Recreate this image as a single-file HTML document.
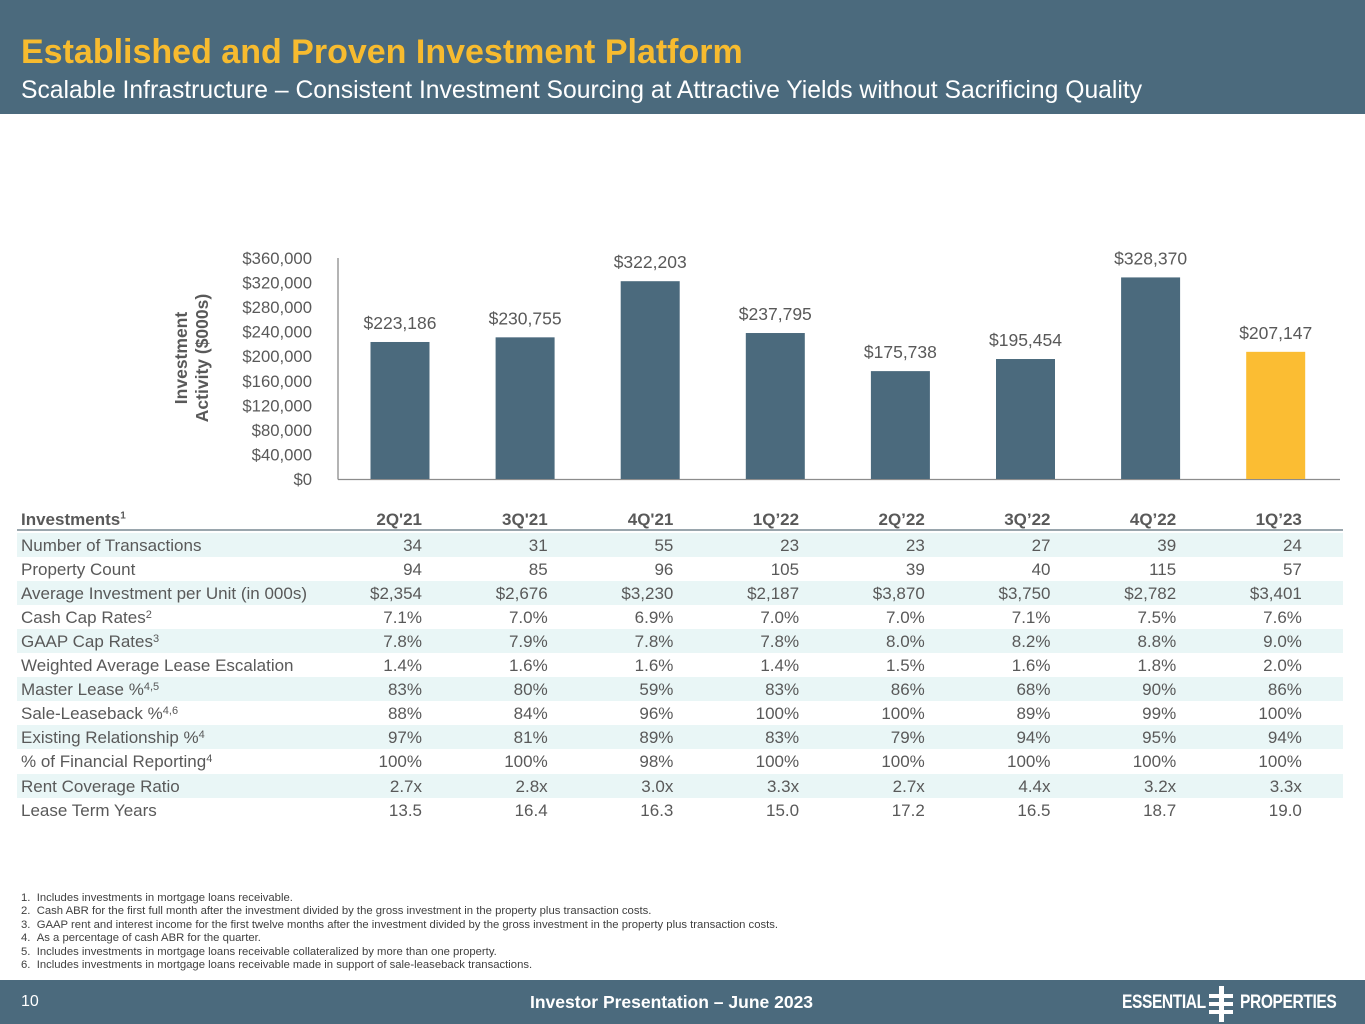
<!DOCTYPE html>
<html><head><meta charset="utf-8"><style>
body{margin:0;width:1365px;height:1024px;position:relative;background:#fff;font-family:"Liberation Sans",Arial,sans-serif;overflow:hidden}
.hdr{position:absolute;left:0;top:0;width:1365px;height:114px;background:#4b6a7d}
.t1{position:absolute;left:21px;top:33px;font-size:34px;font-weight:bold;color:#f7bb2f}
.t2{position:absolute;left:21px;top:77px;font-size:24.7px;color:#fff}
.ftr{position:absolute;left:0;top:980px;width:1365px;height:44px;background:#4b6a7d;color:#fff}
.row{position:absolute;left:17px;width:1326px;height:24px;font-size:17px;color:#595959}
.row.sh{background:#e9f6f6}
.row span{position:absolute;top:3px}
.row .lbl{left:4px}
.row .v{width:100px;text-align:right}
.hrow{font-weight:bold;border-bottom:2px solid #9aa6ad;height:22px}
.notes{position:absolute;left:21px;top:892px;font-size:11.3px;color:#404040;line-height:13.4px}
</style></head><body>
<div class="hdr"></div>
<div class="t1">Established and Proven Investment Platform</div>
<div class="t2">Scalable Infrastructure – Consistent Investment Sourcing at Attractive Yields without Sacrificing Quality</div>
<svg id="chart" width="1365" height="500" style="position:absolute;left:0;top:0"></svg>
<div id="tbl"></div>
<div class="notes">1.&nbsp;&nbsp;Includes investments in mortgage loans receivable.<br>2.&nbsp;&nbsp;Cash ABR for the first full month after the investment divided by the gross investment in the property plus transaction costs.<br>3.&nbsp;&nbsp;GAAP rent and interest income for the first twelve months after the investment divided by the gross investment in the property plus transaction costs.<br>4.&nbsp;&nbsp;As a percentage of cash ABR for the quarter.<br>5.&nbsp;&nbsp;Includes investments in mortgage loans receivable collateralized by more than one property.<br>6.&nbsp;&nbsp;Includes investments in mortgage loans receivable made in support of sale-leaseback transactions.</div>
<div class="ftr">
<span style="position:absolute;left:21px;top:13px;font-size:16px">10</span>
<span style="position:absolute;left:530px;top:12px;font-size:17.5px;font-weight:bold">Investor Presentation – June 2023</span>
<span style="position:absolute;left:1122px;top:12px;font-size:19px;font-weight:bold;letter-spacing:-0.5px;transform:scaleX(0.82);transform-origin:left">ESSENTIAL</span>
<svg style="position:absolute;left:1207px;top:6px" width="28" height="36"><rect x="12" y="0" width="5" height="36" fill="#fff"/><rect x="2" y="8" width="24" height="4" fill="#fff"/><rect x="2" y="16" width="24" height="4" fill="#fff"/><rect x="2" y="24" width="24" height="4" fill="#fff"/></svg>
<span style="position:absolute;left:1240px;top:12px;font-size:19px;font-weight:bold;letter-spacing:-0.5px;transform:scaleX(0.82);transform-origin:left">PROPERTIES</span>
</div>
<script>
const categories=["2Q'21","3Q'21","4Q'21","1Q’22","2Q’22","3Q’22","4Q’22","1Q’23"];
const values=[223186,230755,322203,237795,175738,195454,328370,207147];
const ticks=[0,40000,80000,120000,160000,200000,240000,280000,320000,360000];
const NS="http://www.w3.org/2000/svg";
const svg=document.getElementById('chart');
const y0=479,yTop=258,maxV=360000;
const y=v=>y0-(v/maxV)*(y0-yTop);
const x=i=>400+i*125.1;
function mk(t,a){const e=document.createElementNS(NS,t);for(const k in a)e.setAttribute(k,a[k]);svg.appendChild(e);return e;}
const fmt=v=>'$'+v.toLocaleString('en-US');
ticks.forEach(t=>{const e=mk('text',{x:312,y:y(t)+6,'text-anchor':'end','font-size':16.7,fill:'#595959'});e.textContent=fmt(t);

});
const ax=mk('line',{x1:338,y1:258,x2:338,y2:479.5,stroke:'#8c8c8c','stroke-width':1.3});


const bl=mk('line',{x1:338,y1:479.5,x2:1340,y2:479.5,stroke:'#8c8c8c','stroke-width':1.3});


values.forEach((v,i)=>{const r=mk('rect',{x:x(i)-29.5,y:y(v),width:59,height:y0-y(v),fill:i==7?'#fbbd33':'#4b6a7d'});


const t=mk('text',{x:x(i),y:y(v)-13,'text-anchor':'middle','font-size':17.5,fill:'#595959'});t.textContent=fmt(v);

});
const yt=mk('text',{transform:'translate(191,358) rotate(-90)','text-anchor':'middle','font-size':17.5,'font-weight':'bold',fill:'#595959'});


yt.innerHTML='<tspan x="0" dy="-4">Investment</tspan><tspan x="0" dy="21">Activity ($000s)</tspan>';

const rows=[
["Number of Transactions",["34","31","55","23","23","27","39","24"]],
["Property Count",["94","85","96","105","39","40","115","57"]],
["Average Investment per Unit (in 000s)",["$2,354","$2,676","$3,230","$2,187","$3,870","$3,750","$2,782","$3,401"]],
["Cash Cap Rates<sup>2</sup>",["7.1%","7.0%","6.9%","7.0%","7.0%","7.1%","7.5%","7.6%"]],
["GAAP Cap Rates<sup>3</sup>",["7.8%","7.9%","7.8%","7.8%","8.0%","8.2%","8.8%","9.0%"]],
["Weighted Average Lease Escalation",["1.4%","1.6%","1.6%","1.4%","1.5%","1.6%","1.8%","2.0%"]],
["Master Lease %<sup>4,5</sup>",["83%","80%","59%","83%","86%","68%","90%","86%"]],
["Sale-Leaseback %<sup>4,6</sup>",["88%","84%","96%","100%","100%","89%","99%","100%"]],
["Existing Relationship %<sup>4</sup>",["97%","81%","89%","83%","79%","94%","95%","94%"]],
["% of Financial Reporting<sup>4</sup>",["100%","100%","98%","100%","100%","100%","100%","100%"]],
["Rent Coverage Ratio",["2.7x","2.8x","3.0x","3.3x","2.7x","4.4x","3.2x","3.3x"]],
["Lease Term Years",["13.5","16.4","16.3","15.0","17.2","16.5","18.7","19.0"]]];
const tbl=document.getElementById('tbl');
const colR=i=>422+i*125.7-17;
function addRow(top,lbl,vals,cls,name){const d=document.createElement('div');d.className='row '+cls;d.style.top=top+'px';


let h='<span class="lbl">'+lbl+'</span>';vals.forEach((v,i)=>{h+='<span class="v" style="left:'+(colR(i)-100)+'px">'+v+'</span>';});d.innerHTML=h;tbl.appendChild(d);}
addRow(507,'Investments<sup style="font-size:10px">1</sup>',categories,'hrow','table-header');
rows.forEach((r,i)=>addRow(533+i*24.05,r[0].replace(/<sup>/g,'<sup style="font-size:11px;vertical-align:5px;line-height:0">'),r[1],i%2==0?'sh':'','table-row'));
</script>
</body></html>
